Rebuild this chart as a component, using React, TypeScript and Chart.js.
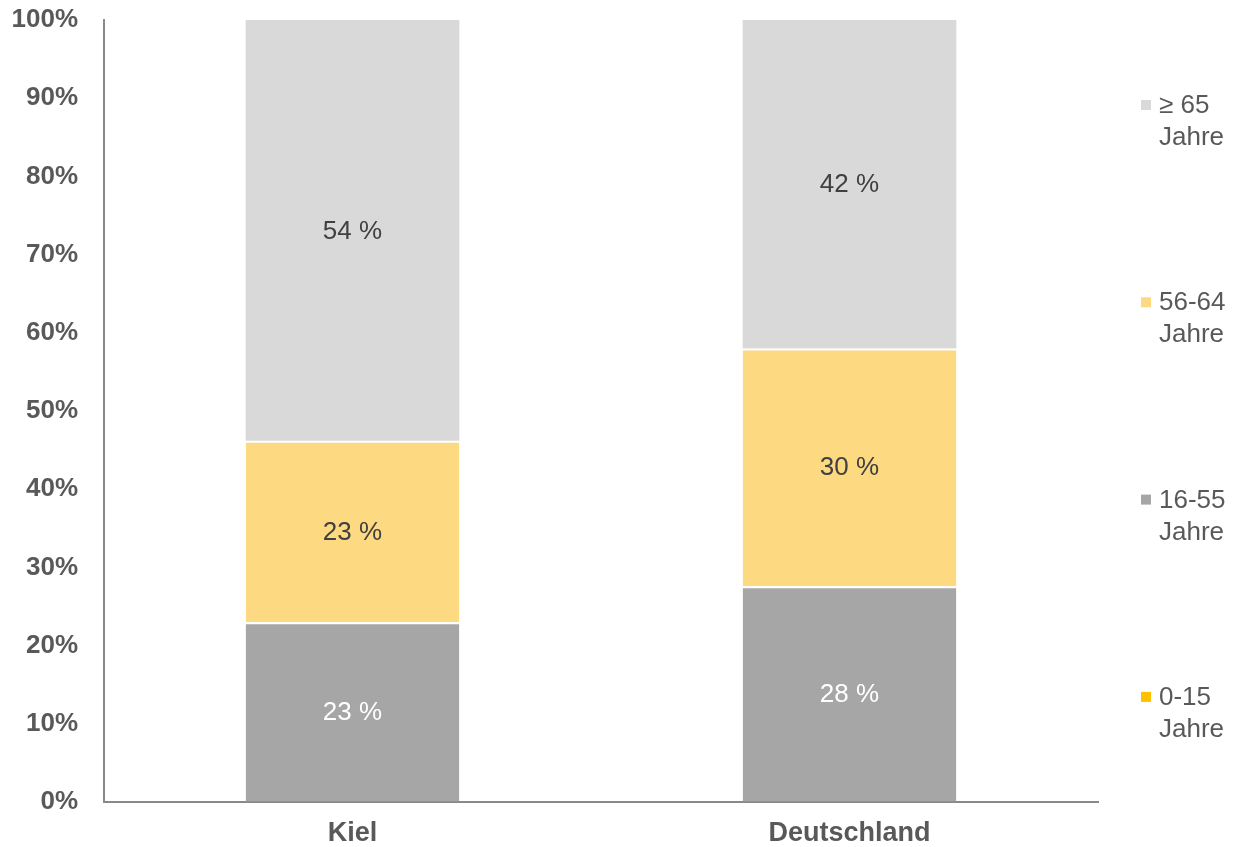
import React, { useEffect, useRef } from 'react';
import { Chart, registerables } from 'chart.js';

Chart.register(...registerables);

const categories = ['Kiel', 'Deutschland'];
const seriesNames = ['0-15 Jahre', '16-55 Jahre', '56-64 Jahre', '≥ 65 Jahre'];
const age0to15 = [0, 0];
const age16to55 = [23.0, 27.6];
const age56to64 = [23.2, 30.4];
const age65plus = [53.8, 42.0];
const yTickValues = [0, 10, 20, 30, 40, 50, 60, 70, 80, 90, 100];
const legendFirstLines = ['≥ 65', '56-64', '16-55', '0-15'];
const legendSecondLine = 'Jahre';

const seriesColors = ['#FFC000', '#A6A6A6', '#FDDA81', '#D9D9D9'];
const labelColors = ['#404040', '#FFFFFF', '#404040', '#404040'];
const FONT = '"Liberation Sans", Arial, Helvetica, sans-serif';

const overlayPlugin = {
  id: 'overlay',
  afterDatasetsDraw(chart: any) {
    const ctx = chart.ctx;
    ctx.save();
    ctx.font = `26px ${FONT}`;
    ctx.textAlign = 'center';
    ctx.textBaseline = 'middle';
    chart.data.datasets.forEach((ds: any, di: number) => {
      const meta = chart.getDatasetMeta(di);
      meta.data.forEach((bar: any, i: number) => {
        const v = ds.data[i];
        if (!v) return;
        const p = bar.getProps(['x', 'y', 'base'], true);
        ctx.fillStyle = labelColors[di];
        ctx.fillText(`${Math.round(v)} %`, p.x, (p.y + p.base) / 2 + 1);
      });
    });
    ctx.restore();
  },
  afterDraw(chart: any) {
    const ctx = chart.ctx;
    const area = chart.chartArea;
    ctx.save();
    ctx.font = `26px ${FONT}`;
    ctx.textAlign = 'left';
    ctx.textBaseline = 'middle';
    const order = [3, 2, 1, 0];
    order.forEach((dsIndex, k) => {
      const y = area.top + 85 + k * 197.3;
      const mx = area.right + 43;
      ctx.fillStyle = seriesColors[dsIndex];
      ctx.fillRect(mx, y - 5, 10, 10);
      ctx.fillStyle = '#595959';
      ctx.fillText(legendFirstLines[k], mx + 18, y + 1);
      ctx.fillText(legendSecondLine, mx + 18, y + 33);
    });
    ctx.restore();
  },
};

export default function App() {
  const ref = useRef<HTMLCanvasElement>(null);
  useEffect(() => {
    if (!ref.current) return;
    const seriesData = [age0to15, age16to55, age56to64, age65plus];
    const chart = new Chart(ref.current, {
      type: 'bar',
      data: {
        labels: categories,
        datasets: seriesNames.map((name, i) => ({
          label: name,
          data: seriesData[i],
          backgroundColor: seriesColors[i],
          borderColor: '#FFFFFF',
          borderWidth: { top: i === seriesNames.length - 1 ? 0 : 2, bottom: 0, left: 0, right: 0 },
          borderSkipped: false,
          categoryPercentage: 1,
          barPercentage: 0.43,
        })),
      },
      options: {
        animation: false,
        responsive: true,
        maintainAspectRatio: false,
        layout: { padding: { top: 20, right: 136, bottom: 0, left: 0 } },
        plugins: {
          legend: { display: false },
          tooltip: { enabled: false },
        },
        scales: {
          x: {
            stacked: true,
            grid: { display: true, color: 'rgba(0,0,0,0)', drawTicks: false },
            border: { display: true, color: '#898989', width: 2 },
            ticks: {
              color: '#595959',
              font: { family: FONT, size: 27, weight: 'bold' },
              padding: 15,
            },
            afterFit(scale: any) {
              scale.height = 45;
            },
          },
          y: {
            stacked: true,
            min: 0,
            max: 100,
            afterBuildTicks(scale: any) {
              scale.ticks = yTickValues.map((v) => ({ value: v }));
            },
            grid: { display: true, color: 'rgba(0,0,0,0)', drawTicks: false },
            border: { display: true, color: '#898989', width: 2 },
            ticks: {
              color: '#595959',
              font: { family: FONT, size: 26, weight: 'bold' },
              padding: 26,
              callback: (v: any) => `${v}%`,
            },
            afterFit(scale: any) {
              scale.width = 104;
              scale.paddingTop = 0;
              scale.paddingBottom = 0;
            },
          },
        },
      },
      plugins: [overlayPlugin],
    });
    return () => chart.destroy();
  }, []);
  return (
    <div style={{ position: 'absolute', left: 0, top: 0, width: 1234, height: 847, background: '#fff' }}>
      <canvas ref={ref} />
    </div>
  );
}
